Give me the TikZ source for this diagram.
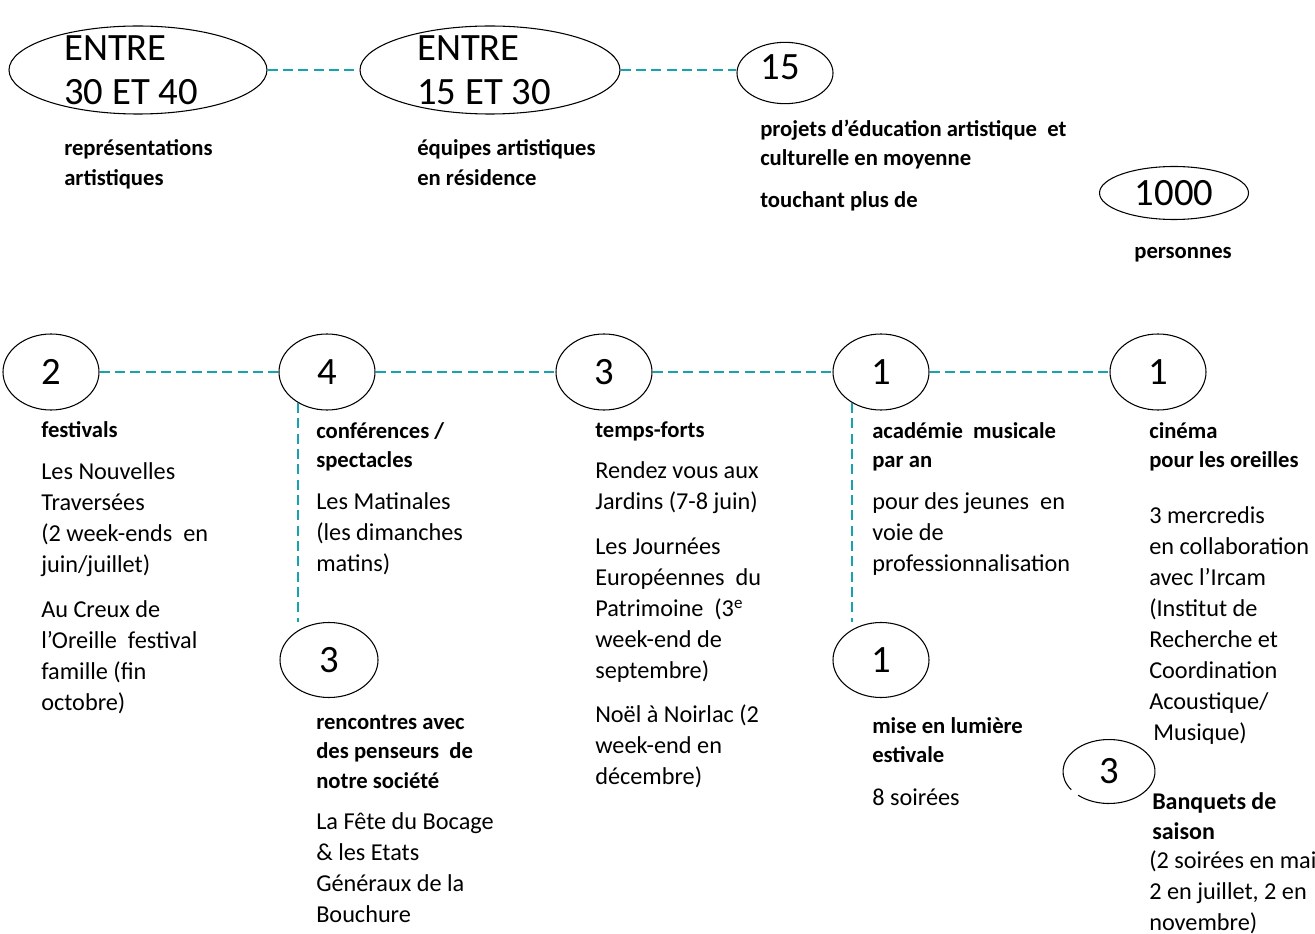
\documentclass[tikz,border=0pt]{standalone}
\usepackage{fontspec}
\setmainfont{Carlito}
\usetikzlibrary{shapes.geometric}
\definecolor{linkteal}{RGB}{22,163,176}
\begin{document}
\begin{tikzpicture}[x=0.75pt,y=-0.75pt,
  ov/.style={draw, ellipse, line width=0.8pt, inner sep=0pt},
  ovnd/.style={ellipse, inner sep=0pt},
  link/.style={draw=linkteal, line width=1.9pt, dash pattern=on 7.5pt off 4pt},
  big/.style={font=\fontsize{29}{33}\selectfont},
  bigtxt/.style={anchor=west, align=left, inner sep=0pt, font=\fontsize{29}{33}\selectfont},
  hd/.style={anchor=west, align=left, inner sep=0pt, yshift=-3pt, font=\bfseries\fontsize{17}{22}\selectfont},
  hdb/.style={anchor=west, align=left, inner sep=0pt, yshift=-3pt, font=\bfseries\fontsize{18}{22.5}\selectfont},
  bd/.style={anchor=west, align=left, inner sep=0pt, yshift=-2.5pt, font=\fontsize{18.2}{23.25}\selectfont},
  rowc/.style={ov, minimum width=72pt, minimum height=57pt, big},
]
\useasboundingbox (0,0) rectangle (1315,934);

% ---- top row ----
\node[ov, minimum width=193.5pt, minimum height=66pt] (e1) at (138,70) {};
\node[bigtxt] (t1) at (64,73.5) {\strut ENTRE\\30 ET 40\strut};
\node[ov, minimum width=195pt, minimum height=66pt] (e2) at (490,70) {};
\node[bigtxt] (t2) at (417,73.5) {\strut ENTRE\\15 ET 30\strut};
\node[ov, minimum width=72pt, minimum height=46pt] (c15) at (785,73) {};
\node[big, inner sep=0pt] (t15) at (780,67.5) {15};
\draw[link] (e1.east) -- (e2.west);
\draw[link] (e2.east) -- (e2.east -| c15.west);

\node[hd] (l1) at (64,160.5) {\strut représentations\\artistiques\strut};
\node[hd] (l2) at (417,160.5) {\strut équipes artistiques\\en résidence\strut};
\node[hd] (l3) at (760,141) {\strut projets d’éducation artistique\ \ et\\culturelle en moyenne\strut};
\node[hd] (l4) at (760,198) {\strut touchant plus de\strut};
\node[ov, minimum width=111.75pt, minimum height=39.75pt, big] (c1000) at (1174,193) {1000};
\node[hd, anchor=center] (l5) at (1183,249) {\strut personnes\strut};

% ---- second row ----
\node[rowc] (n2) at (51,372) {2};
\node[rowc] (n4) at (327,372) {4};
\node[rowc] (n3) at (604,372) {3};
\node[rowc] (n1a) at (881,372) {1};
\node[rowc] (n1b) at (1158,372) {1};
\draw[link] (n2) -- (n4);
\draw[link] (n4) -- (n3);
\draw[link] (n3) -- (n1a);
\draw[link] (n1a) -- (n1b);

\node[ov, minimum width=73.5pt, minimum height=56.25pt, big] (m3) at (329,660) {3};
\node[ov, minimum width=72pt, minimum height=56.25pt, big] (m1) at (881,660) {1};
\draw[link] (n4.227) -- (n4.227 |- m3.north);
\draw[link] (n1a.227) -- (n1a.227 |- m1.north);

\node[ovnd, minimum width=69pt, minimum height=48pt, big] (b3) at (1109,771.5) {3};
\draw[line width=0.8pt] ([shift={(228:34.5pt and 24pt)}]b3.center)
  arc[start angle=228, end angle=575, x radius=34.5pt, y radius=24pt];

% ---- column 1 ----
\node[hd] (f1) at (41,428) {\strut festivals\strut};
\node[bd] (f2) at (41,516) {\strut Les Nouvelles\\Traversées\\(2 week-ends\ \ en\\juin/juillet)\strut};
\node[bd] (f3) at (41,654.5) {\strut Au Creux de\\l’Oreille\ \ festival\\famille (fin\\octobre)\strut};

% ---- column 2 ----
\node[hd] (g1) at (316,443) {\strut conférences /\\spectacles\strut};
\node[bd] (g2) at (316,530.5) {\strut Les Matinales\\(les dimanches\\matins)\strut};
\node[hd] (g3) at (316,749) {\strut rencontres avec\\des penseurs\ \ de\\notre société\strut};
\node[bd] (g4) at (316,866) {\strut La Fête du Bocage\\\& les Etats\\Généraux de la\\Bouchure\strut};

% ---- column 3 ----
\node[hd] (h1) at (595,428) {\strut temps-forts\strut};
\node[bd] (h2) at (595,484.5) {\strut Rendez vous aux\\Jardins (7-8 juin)\strut};
\node[bd] (h3) at (595,607) {\strut Les Journées\\Européennes\ \ du\\Patrimoine\ \ (3\textsuperscript{e}\\week-end de\\septembre)\strut};
\node[bd] (h4) at (595,744) {\strut Noël à Noirlac (2\\week-end en\\décembre)\strut};

% ---- column 4 ----
\node[hd] (k1) at (872,443) {\strut académie\ \ musicale\\par an\strut};
\node[bd] (k2) at (872,530.5) {\strut pour des jeunes\ \ en\\voie de\\professionnalisation\strut};
\node[hd] (k3) at (872,738) {\strut mise en lumière\\estivale\strut};
\node[bd] (k4) at (872,796) {\strut 8 soirées\strut};

% ---- column 5 ----
\node[hd] (p1) at (1149,443) {\strut cinéma\\pour les oreilles\strut};
\node[bd] (p2) at (1149,622.5) {\strut 3 mercredis\\en collaboration\\avec l’Ircam\\(Institut de\\Recherche et\\Coordination\\Acoustique/\\\hspace{3pt}Musique)\strut};
\node[hdb] (p3) at (1152,814) {\strut Banquets de\\saison\strut};
\node[bd] (p4) at (1149,890) {\strut (2 soirées en mai\\2 en juillet, 2 en\\novembre)\strut};
\end{tikzpicture}
\end{document}
